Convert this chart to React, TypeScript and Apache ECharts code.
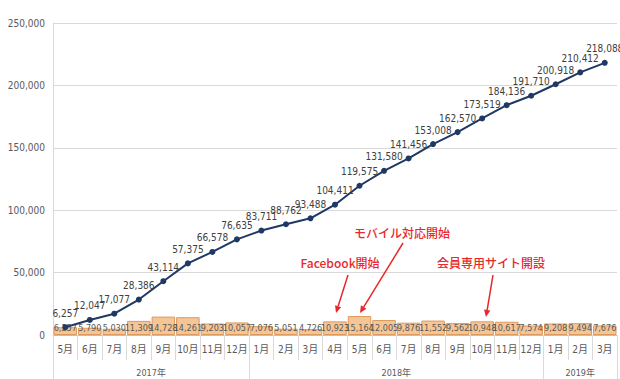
import React, { useEffect, useRef } from "react";
import * as echarts from "echarts";

// Months shown on the category axis (May 2017 – Mar 2019)
const months = [
  "5月", "6月", "7月", "8月", "9月", "10月", "11月", "12月",
  "1月", "2月", "3月", "4月", "5月", "6月", "7月", "8月", "9月", "10月", "11月", "12月",
  "1月", "2月", "3月",
];

// Monthly new members (bars)
const monthly = [
  6257, 5790, 5030, 11309, 14728, 14261, 9203, 10057,
  7076, 5051, 4726, 10923, 15164, 12005, 9876, 11552, 9562, 10948, 10617, 7574,
  9208, 9494, 7676,
];

// Cumulative members (line)
const cumulative = [
  6257, 12047, 17077, 28386, 43114, 57375, 66578, 76635,
  83711, 88762, 93488, 104411, 119575, 131580, 141456, 153008, 162570, 173519, 184136, 191710,
  200918, 210412, 218088,
];

// Year groups under the month labels
const yearLabels = ["2017年", "2018年", "2019年"];
const yearMonthCounts = [8, 12, 3];

const FONT = "'Liberation Sans Narrow', 'DejaVu Sans Condensed', 'Noto Sans CJK JP', 'Liberation Sans', sans-serif";
const RED = "#e8282b";

function arrow(x1: number, y1: number, x2: number, y2: number) {
  const dx = x2 - x1;
  const dy = y2 - y1;
  const len = Math.sqrt(dx * dx + dy * dy);
  const ux = dx / len;
  const uy = dy / len;
  const hl = 7;
  const hw = 3.2;
  const bx = x2 - ux * hl;
  const by = y2 - uy * hl;
  return [
    {
      type: "line",
      shape: { x1, y1, x2: bx, y2: by },
      style: { stroke: RED, lineWidth: 1.5 },
      z: 100,
    },
    {
      type: "polygon",
      shape: {
        points: [
          [x2, y2],
          [bx - uy * hw, by + ux * hw],
          [bx + uy * hw, by - ux * hw],
        ],
      },
      style: { fill: RED },
      z: 100,
    },
  ];
}

export default function App() {
  const ref = useRef<HTMLDivElement>(null);

  useEffect(() => {
    if (!ref.current) return;
    const chart = echarts.init(ref.current, undefined, { renderer: "svg" });

    // Year boundaries and centres on a 0..N value scale
    const bounds: number[] = [0];
    yearMonthCounts.forEach((c) => bounds.push(bounds[bounds.length - 1] + c));
    const centers = yearMonthCounts.map((c, i) => bounds[i] + c / 2);

    const annotations = [
      { text: "モバイル対応開始", x: 402, y: 232 },
      { text: "Facebook開始", x: 340, y: 262 },
      { text: "会員専用サイト開設", x: 491, y: 262 },
    ];

    chart.setOption({
      animation: false,
      grid: { left: 53, right: 3, top: 23, bottom: 44, containLabel: false },
      xAxis: [
        {
          type: "category",
          data: months,
          position: "bottom",
          axisLine: { lineStyle: { color: "#bfbfbf", width: 1 } },
          axisTick: {
            show: true,
            interval: 0,
            length: 25,
            lineStyle: { color: "#d9d9d9" },
          },
          axisLabel: {
            interval: 0,
            color: "#595959",
            fontSize: 10,
            fontFamily: FONT,
            margin: 9,
          },
        },
        {
          type: "value",
          min: 0,
          max: bounds[bounds.length - 1],
          position: "bottom",
          axisLine: { show: false },
          splitLine: { show: false },
          axisTick: {
            show: true,
            customValues: bounds,
            length: 44,
            lineStyle: { color: "#d9d9d9" },
          },
          axisLabel: {
            customValues: centers,
            formatter: (v: number) => {
              const i = centers.indexOf(v);
              return i >= 0 ? yearLabels[i] : "";
            },
            color: "#595959",
            fontSize: 9,
            fontFamily: FONT,
            margin: 33,
          },
        },
      ],
      yAxis: {
        type: "value",
        min: 0,
        max: 250000,
        interval: 50000,
        axisLine: { show: true, lineStyle: { color: "#d9d9d9" } },
        axisTick: { show: false },
        splitLine: { lineStyle: { color: "#d9d9d9", width: 1 } },
        axisLabel: {
          color: "#595959",
          fontSize: 10,
          fontFamily: FONT,
          margin: 8,
          formatter: (v: number) => v.toLocaleString("en-US"),
        },
      },
      series: [
        {
          type: "bar",
          data: monthly,
          xAxisIndex: 0,
          barCategoryGap: "4%",
          itemStyle: { color: "#f6c596", borderColor: "#dc9a5c", borderWidth: 1 },
          label: {
            show: true,
            position: "insideBottom",
            distance: 3,
            color: "#595959",
            fontSize: 9,
            fontFamily: FONT,
            overflow: "none",
            formatter: (p: any) => Number(p.value).toLocaleString("en-US"),
          },
          z: 2,
        },
        {
          type: "line",
          data: cumulative,
          xAxisIndex: 0,
          symbol: "circle",
          symbolSize: 6,
          lineStyle: { color: "#1f3864", width: 2 },
          itemStyle: { color: "#1f3864" },
          label: {
            show: true,
            position: "top",
            distance: 6,
            color: "#404040",
            fontSize: 10,
            fontFamily: FONT,
            formatter: (p: any) => Number(p.value).toLocaleString("en-US"),
          },
          z: 5,
        },
      ],
      graphic: [
        ...annotations.map((a) => ({
          type: "text",
          x: a.x,
          y: a.y,
          style: {
            text: a.text,
            fill: RED,
            fontSize: 12,
            fontWeight: 500,
            fontFamily: "'Noto Sans CJK JP', sans-serif",
            align: "center",
            verticalAlign: "middle",
          },
          z: 100,
        })),
        ...arrow(348, 275, 336, 313),
        ...arrow(403, 243, 360, 313),
        ...arrow(493, 275, 486, 317),
      ],
    });

    return () => chart.dispose();
  }, []);

  return <div ref={ref} style={{ width: 620, height: 379, position: "absolute", left: 0, top: 0, background: "#fff" }} />;
}
